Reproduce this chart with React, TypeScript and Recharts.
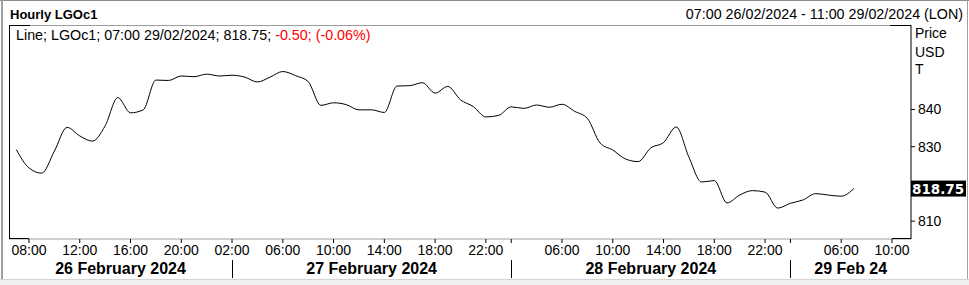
import { LineChart, Line, XAxis, YAxis, ReferenceLine } from "recharts";

// hourly closes, 07:00 26/02 .. 07:00 29/02 (trading hours only)
const PRICES = [
  829.2, 824.3, 822.9, 828.8, 835.2, 832.9, 831.5, 835.6, 843.2, 839.1,
  839.9, 847.9, 847.8, 849.0, 848.8, 849.5, 849.0, 849.2, 848.7, 847.4,
  848.7, 850.2, 849.1, 847.5, 841.1, 841.8, 841.3, 839.9, 839.9, 839.2,
  846.3, 846.4, 847.2, 844.4, 846.2, 842.6, 840.8, 838.0, 838.4, 840.7,
  840.3, 841.2, 840.6, 841.4, 839.5, 837.6, 831.0, 829.1, 826.7, 826.0,
  829.7, 831.1, 835.3, 827.2, 820.5, 820.9, 814.9, 817.0, 818.2, 817.8,
  813.5, 814.8, 815.7, 817.4, 817.0, 816.7, 818.75,
];
const LAST = 818.75;

const TIME_TICKS = [1, 5, 9, 13, 17, 21, 25, 29, 33, 37, 39, 43, 47, 51, 55, 59, 61, 65, 69];
const TIME_LABELS = [
  "08:00", "12:00", "16:00", "20:00", "02:00", "06:00", "10:00", "14:00", "18:00",
  "22:00", "", "06:00", "10:00", "14:00", "18:00", "22:00", "", "06:00", "10:00",
];
const DAY_STARTS = [17, 39, 61];
const DAY_LABELS = ["26 February 2024", "27 February 2024", "28 February 2024", "29 Feb 24"];
const Y_TICKS = [810, 830, 840];

const X_DOMAIN: [number, number] = [-0.575, 70.5];
const Y_DOMAIN: [number, number] = [805.2, 862.7];

const data = PRICES.map((price, i) => ({ i, price }));
const DAY_EDGES = [X_DOMAIN[0], ...DAY_STARTS, X_DOMAIN[1]];
const DAY_CENTERS = DAY_LABELS.map((_, k) => (DAY_EDGES[k] + DAY_EDGES[k + 1]) / 2);

const FONT = "'Liberation Sans', Arial, sans-serif";
const GREY = "#9d9d9d";

function DayTick({ x, y, payload }: any) {
  const v = payload.value;
  if (DAY_STARTS.includes(v)) {
    return <line x1={x} x2={x} y1={y + 1} y2={y + 19} stroke="#000" shapeRendering="crispEdges" />;
  }
  const k = DAY_CENTERS.findIndex((c) => Math.abs(c - v) < 1e-6);
  return (
    <text x={x} y={y + 15} textAnchor="middle" fontSize={16} fontWeight="bold" fill="#000">
      {DAY_LABELS[k]}
    </text>
  );
}

function LastLabel({ viewBox }: any) {
  const x = viewBox.x + viewBox.width;
  const y = viewBox.y;
  return (
    <g>
      <rect x={x} y={y - 8} width={55} height={16} fill="#000" />
      <text
        x={x + 1}
        y={y + 5}
        fill="#fff"
        fontSize={13.5}
        fontWeight="bold"
        fontFamily="'DejaVu Sans', sans-serif"
      >
        {LAST.toFixed(2)}
      </text>
    </g>
  );
}

const abs = (s: any): any => ({ position: "absolute", ...s });

export default function App() {
  return (
    <div style={abs({ left: 0, top: 0, width: 969, height: 285, background: "#fff", overflow: "hidden", fontFamily: FONT })}>
      <LineChart
        width={969}
        height={285}
        data={data}
        margin={{ top: 25, right: 0, bottom: 0, left: 9 }}
        style={{ position: "absolute", left: 0, top: 0 }}
      >
        <XAxis
          xAxisId="a"
          dataKey="i"
          type="number"
          domain={X_DOMAIN}
          allowDataOverflow
          ticks={TIME_TICKS}
          interval={0}
          tickFormatter={(v: number) => TIME_LABELS[TIME_TICKS.indexOf(v)]}
          height={20}
          tickSize={4}
          tickMargin={2}
          axisLine={{ stroke: GREY }}
          tickLine={{ stroke: "#000" }}
          tick={{ fill: "#000", fontSize: 14 }}
        />
        <XAxis
          xAxisId="b"
          dataKey="i"
          type="number"
          domain={X_DOMAIN}
          allowDataOverflow
          ticks={[...DAY_STARTS, ...DAY_CENTERS]}
          interval={0}
          height={26}
          tickSize={0}
          tickMargin={0}
          axisLine={false}
          tickLine={false}
          tick={<DayTick />}
        />
        <YAxis
          yAxisId="p"
          orientation="right"
          type="number"
          domain={Y_DOMAIN}
          allowDataOverflow
          ticks={Y_TICKS}
          interval={0}
          width={58}
          tickSize={4}
          tickMargin={3}
          axisLine={{ stroke: "#000" }}
          tickLine={{ stroke: "#000" }}
          tick={{ fill: "#000", fontSize: 14 }}
        />
        <Line
          xAxisId="a"
          yAxisId="p"
          dataKey="price"
          type="monotone"
          stroke="#000"
          strokeWidth={1}
          dot={false}
          isAnimationActive={false}
        />
        <ReferenceLine xAxisId="a" yAxisId="p" y={LAST} stroke="none" label={<LastLabel />} />
      </LineChart>

      {/* frame */}
      <div style={abs({ left: 0, top: 0, width: 969, height: 1, background: "#8c8c8c" })} />
      <div style={abs({ left: 1, top: 0, width: 2, height: 285, background: "#a0a0a0" })} />
      <div style={abs({ left: 967, top: 0, width: 1, height: 285, background: "#a0a0a0" })} />
      <div style={abs({ left: 0, top: 279, width: 969, height: 6, background: "#f0f0f0", borderTop: "1px solid #d4d4d4" })} />
      <div style={abs({ left: 9, top: 25, width: 902, height: 1, background: GREY })} />
      <div style={abs({ left: 9, top: 25, width: 21, height: 1, background: "#000" })} />
      <div style={abs({ left: 890, top: 25, width: 21, height: 1, background: "#000" })} />
      <div style={abs({ left: 9, top: 238, width: 20, height: 1, background: "#000" })} />
      <div style={abs({ left: 892, top: 238, width: 19, height: 1, background: "#000" })} />
      <div style={abs({ left: 9, top: 25, width: 1, height: 214, background: "#000" })} />

      {/* texts */}
      <div style={abs({ left: 10, top: 7, fontSize: 13, lineHeight: "16px", fontWeight: "bold" })}>Hourly LGOc1</div>
      <div style={abs({ right: 6, top: 6, fontSize: 14.3, lineHeight: "16px", whiteSpace: "nowrap" })}>
        07:00 26/02/2024 - 11:00 29/02/2024 (LON)
      </div>
      <div style={abs({ left: 16, top: 27, fontSize: 14.3, lineHeight: "16px", whiteSpace: "nowrap" })}>
        Line; LGOc1; 07:00 29/02/2024; 818.75; <span style={{ color: "#ff0000" }}>-0.50; (-0.06%)</span>
      </div>
      <div style={abs({ left: 915, top: 25, fontSize: 14, lineHeight: "16px" })}>Price</div>
      <div style={abs({ left: 915, top: 44, fontSize: 14, lineHeight: "16px" })}>USD</div>
      <div style={abs({ left: 915, top: 61, fontSize: 14, lineHeight: "16px" })}>T</div>
    </div>
  );
}
